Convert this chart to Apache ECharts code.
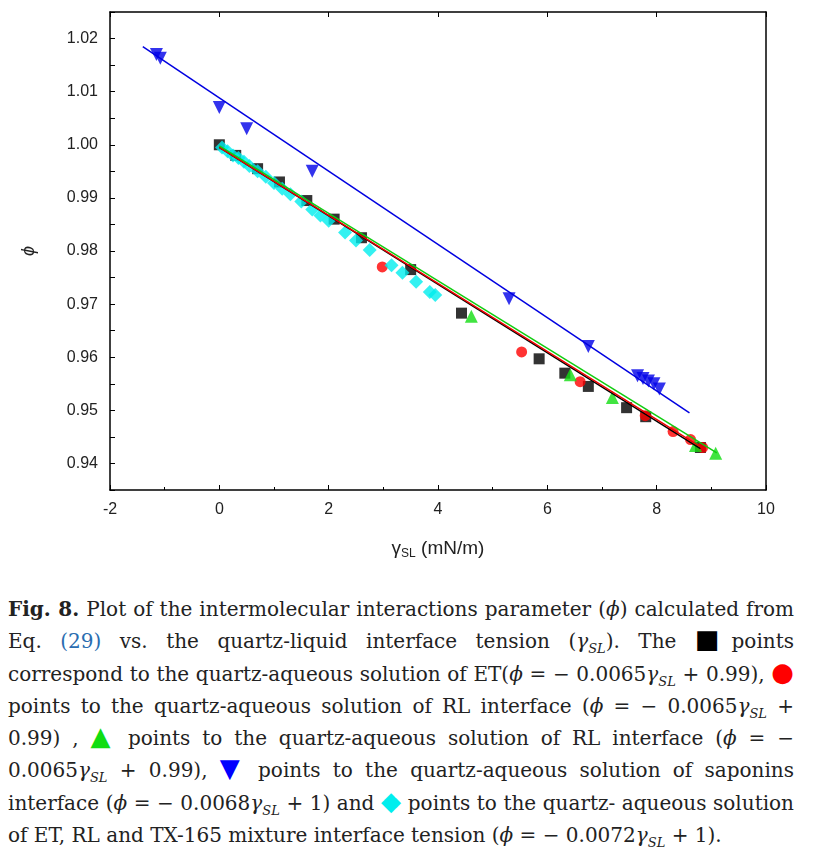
<!DOCTYPE html>
<html><head><meta charset="utf-8">
<script src="https://cdn.jsdelivr.net/npm/echarts@6/dist/echarts.min.js"></script>
<style>
body{margin:0;background:#fff;}
#chart{width:820px;height:585px;}
#cap{font-family:"DejaVu Serif","Liberation Serif",serif;font-size:20px;line-height:32.3px;color:#222;padding:0 26px 0 8px;text-align:justify;margin-top:8px;}
#cap i{font-style:italic}
#cap sub{font-size:13px;line-height:0}
.m{font-size:26px;line-height:0}
.b{color:#2a6db0}
</style></head><body>
<div id="chart"></div>
<div id="cap"><b>Fig. 8.</b> Plot of the intermolecular interactions parameter (<i>ϕ</i>) calculated from Eq. <span class="b">(29)</span> vs. the quartz-liquid interface tension (<i>γ<sub>SL</sub></i>). The <span class="m" style="color:#000">■</span>points correspond to the quartz-aqueous solution of ET(<i>ϕ</i> = − 0.0065<i>γ<sub>SL</sub></i> + 0.99), <span class="m" style="color:#f00">●</span> points to the quartz-aqueous solution of RL interface (<i>ϕ</i> = − 0.0065<i>γ<sub>SL</sub></i> + 0.99) , <span class="m" style="color:#1d1">▲</span> points to the quartz-aqueous solution of RL interface (<i>ϕ</i> = − 0.0065<i>γ<sub>SL</sub></i> + 0.99), <span class="m" style="color:#00f">▼</span> points to the quartz-aqueous solution of saponins interface (<i>ϕ</i> = − 0.0068<i>γ<sub>SL</sub></i> + 1) and <span class="m" style="color:#0ee">◆</span> points to the quartz- aqueous solution of ET, RL and TX-165 mixture interface tension (<i>ϕ</i> = − 0.0072<i>γ<sub>SL</sub></i> + 1).</div>
<script>
// 数据
const etPts = [[0,1.0],[0.3,0.998],[0.7,0.9955],[1.1,0.993],[1.6,0.9895],[2.1,0.986],[2.6,0.9825],[3.5,0.9765],[4.43,0.9683],[5.85,0.9597],[6.32,0.957],[6.75,0.9545],[7.45,0.9505],[7.8,0.9488],[8.8,0.943]];
const rlPts = [[2.98,0.977],[5.53,0.961],[6.6,0.9554],[7.79,0.949],[8.3,0.946],[8.62,0.9445],[8.84,0.943]];
const rl2Pts = [[4.61,0.9677],[6.42,0.9567],[7.19,0.9524],[8.71,0.9434],[9.08,0.9419]];
const sapPts = [[-1.15,1.017],[-1.08,1.0163],[0,1.007],[0.5,1.003],[1.7,0.995],[5.3,0.971],[6.75,0.962],[7.65,0.9565],[7.75,0.956],[7.85,0.9555],[7.95,0.955],[8.05,0.954]];
const mixPts = [[0.05,0.9995],[0.15,0.9988],[0.25,0.998],[0.35,0.9975],[0.45,0.9968],[0.55,0.996],[0.7,0.995],[0.85,0.994],[1.0,0.9928],[1.15,0.9917],[1.3,0.9907],[1.5,0.9893],[1.7,0.9878],[1.85,0.9867],[2.0,0.9857],[2.3,0.9835],[2.5,0.982],[2.75,0.9802],[3.15,0.9773],[3.35,0.9759],[3.6,0.9742],[3.85,0.9723],[3.95,0.9717]];
const etLine = [[0,0.9995],[8.8,0.9428]];
const rlLine = [[0,0.9995],[8.9,0.9425]];
const rl2Line = [[0,0.9998],[9.1,0.942]];
const sapLine = [[-1.4,1.0185],[8.6,0.9495]];

const chart = echarts.init(document.getElementById('chart'));
const line = {show:true,onZero:false,lineStyle:{color:'#000',width:1.5}};
chart.setOption({
  animation:false,
  grid:{left:110,right:54,top:12,bottom:95},
  xAxis:[
    {type:'value',min:-2,max:10,interval:2,position:'bottom',axisLine:line,splitLine:{show:false},
      axisTick:{inside:true,lineStyle:{color:'#000'}},
      name:'{g|γ}{s|SL}{g| (mN/m)}',nameLocation:'middle',nameGap:48,
      nameTextStyle:{rich:{g:{fontSize:19,fontFamily:'Liberation Sans',color:'#222'},s:{fontSize:12,fontFamily:'Liberation Sans',padding:[10,0,0,0],color:'#222'}}},
      axisLabel:{fontSize:16,fontFamily:'Liberation Sans',color:'#222',margin:12},
      minorTick:{show:true,splitNumber:2,length:3}},
    {type:'value',min:-2,max:10,interval:2,position:'top',axisLine:line,axisLabel:{show:false},axisTick:{inside:true,lineStyle:{color:'#000'}},splitLine:{show:false}}
  ],
  yAxis:[
    {type:'value',min:0.935,max:1.025,position:'left',axisLine:line,splitLine:{show:false},
      name:'ϕ',nameLocation:'middle',nameGap:72,nameRotate:90,
      nameTextStyle:{fontSize:18,fontStyle:'italic',color:'#222'},
      axisLabel:{fontSize:16,fontFamily:'Liberation Sans',color:'#222',margin:12,
        formatter:v=>{const r=Math.round(v*1000)/1000;return (Math.abs(r*100-Math.round(r*100))<1e-6 && r>=0.94 && r<=1.02)?r.toFixed(2):'';}},
      interval:0.005,axisTick:{inside:true,lineStyle:{color:'#000'},length:5}},
    {type:'value',min:0.935,max:1.025,position:'right',axisLine:line,axisLabel:{show:false},axisTick:{show:false},splitLine:{show:false}}
  ],
  series:[
    {type:'line',data:etLine,symbol:'none',lineStyle:{color:'#000',width:1.5}},
    {type:'line',data:rlLine,symbol:'none',lineStyle:{color:'#e00',width:1.5}},
    {type:'line',data:rl2Line,symbol:'none',lineStyle:{color:'#1c1',width:1.5}},
    {type:'line',data:sapLine,symbol:'none',lineStyle:{color:'#0000e0',width:1.5}},
    {type:'scatter',data:etPts,symbol:'rect',symbolSize:11,itemStyle:{color:'#000'}},
    {type:'scatter',data:rlPts,symbol:'circle',symbolSize:11,itemStyle:{color:'#f00'}},
    {type:'scatter',data:rl2Pts,symbol:'triangle',symbolSize:13,itemStyle:{color:'#1d1'}},
    {type:'scatter',data:sapPts,symbol:'triangle',symbolRotate:180,symbolSize:13,itemStyle:{color:'#0000e8'}},
    {type:'scatter',data:mixPts,symbol:'diamond',symbolSize:14,itemStyle:{color:'#0ee'}}
  ]
});
</script>
</body></html>
